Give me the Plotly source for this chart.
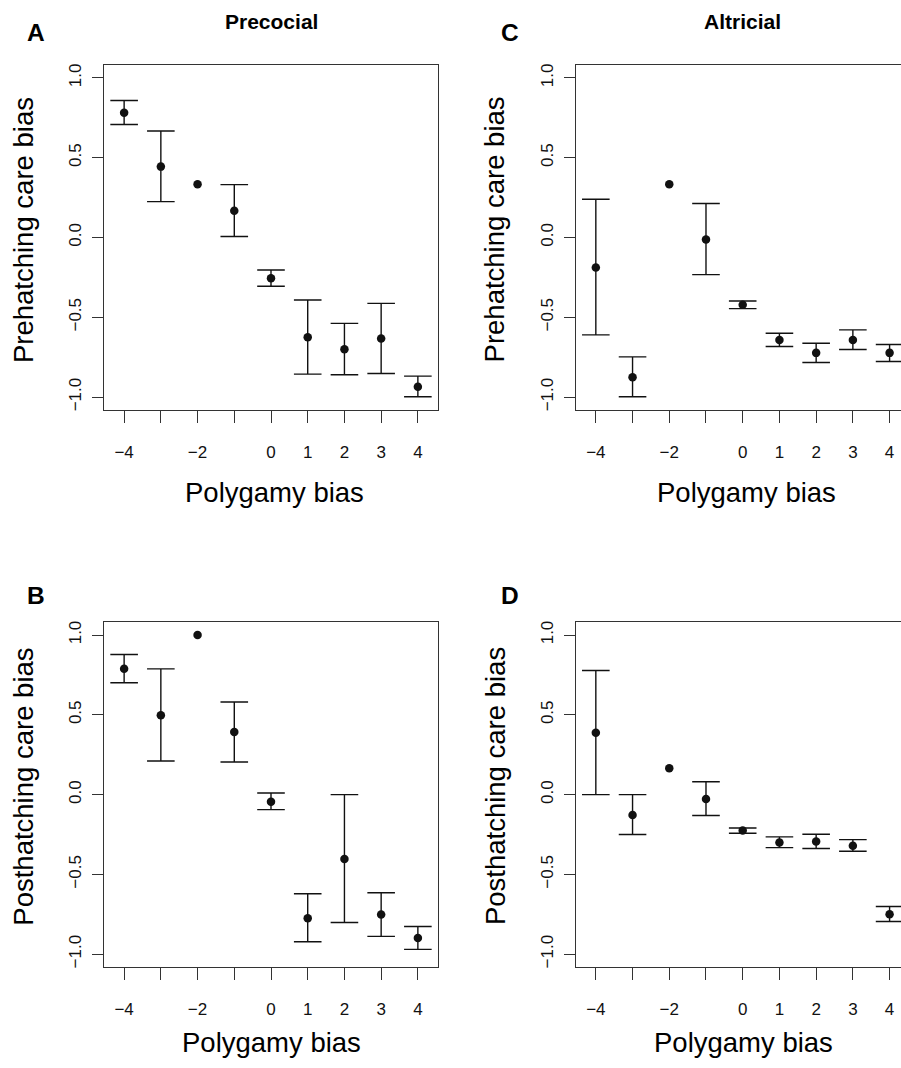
import plotly.graph_objects as go

W, H = 901, 1068

# ---------------- data ----------------
polygamy = [-4, -3, -2, -1, 0, 1, 2, 3, 4]

# Panel A: Precocial, prehatching care bias
pre_precocial = [0.781, 0.444, 0.333, 0.167, -0.256, -0.625, -0.700, -0.633, -0.935]
pre_precocial_hi = [0.858, 0.667, None, 0.331, -0.204, -0.392, -0.538, -0.413, -0.869]
pre_precocial_lo = [0.708, 0.225, None, 0.006, -0.306, -0.856, -0.860, -0.852, -0.998]

# Panel B: Precocial, posthatching care bias
post_precocial = [0.788, 0.498, 1.000, 0.392, -0.044, -0.774, -0.403, -0.751, -0.899]
post_precocial_hi = [0.878, 0.788, None, 0.580, 0.010, -0.621, 0.000, -0.615, -0.826]
post_precocial_lo = [0.701, 0.211, None, 0.204, -0.094, -0.922, -0.801, -0.888, -0.970]

# Panel C: Altricial, prehatching care bias
pre_altricial = [-0.188, -0.875, 0.333, -0.013, -0.421, -0.642, -0.723, -0.642, -0.723]
pre_altricial_hi = [0.240, -0.748, None, 0.213, -0.398, -0.600, -0.663, -0.579, -0.671]
pre_altricial_lo = [-0.610, -0.998, None, -0.233, -0.446, -0.683, -0.783, -0.702, -0.777]

# Panel D: Altricial, posthatching care bias
post_altricial = [0.388, -0.127, 0.165, -0.027, -0.225, -0.300, -0.294, -0.321, -0.749]
post_altricial_hi = [0.778, 0.000, None, 0.081, -0.209, -0.265, -0.248, -0.282, -0.701]
post_altricial_lo = [0.000, -0.250, None, -0.131, -0.242, -0.332, -0.338, -0.355, -0.795]

x_ticktext = ["\u22124", "", "\u22122", "", "0", "1", "2", "3", "4"]
y_tickvals = [-1.0, -0.5, 0.0, 0.5, 1.0]
y_ticktext = ["\u22121.0", "\u22120.5", "0.0", "0.5", "1.0"]

FONT = "Liberation Sans, Arial, Helvetica, sans-serif"
INK = "#111111"
AXC = "#333333"
TICKSIZE = 17

fig = go.Figure()


def add_panel(fig, xa, ya, mean, hi, lo):
    xs_e, ys_e, up, dn = [], [], [], []
    xs_n, ys_n = [], []
    for x, m, h, l in zip(polygamy, mean, hi, lo):
        if h is None or l is None:
            xs_n.append(x)
            ys_n.append(m)
        else:
            xs_e.append(x)
            ys_e.append(m)
            up.append(h - m)
            dn.append(m - l)
    fig.add_trace(go.Scatter(
        x=xs_e, y=ys_e, mode="markers", xaxis=xa, yaxis=ya,
        marker=dict(size=8.5, color=INK),
        error_y=dict(type="data", symmetric=False, array=up, arrayminus=dn,
                     color=INK, thickness=1.4, width=13.8),
        showlegend=False, cliponaxis=False))
    fig.add_trace(go.Scatter(
        x=xs_n, y=ys_n, mode="markers", xaxis=xa, yaxis=ya,
        marker=dict(size=8.5, color=INK), showlegend=False, cliponaxis=False))


add_panel(fig, "x", "y", pre_precocial, pre_precocial_hi, pre_precocial_lo)
add_panel(fig, "x2", "y2", pre_altricial, pre_altricial_hi, pre_altricial_lo)
add_panel(fig, "x3", "y3", post_precocial, post_precocial_hi, post_precocial_lo)
add_panel(fig, "x4", "y4", post_altricial, post_altricial_hi, post_altricial_lo)

PX = 36.72  # pixels per x unit


def xaxis(domain, rng, anchor):
    return dict(domain=domain, range=rng, anchor=anchor,
                tickmode="array", tickvals=polygamy, ticktext=x_ticktext,
                ticks="outside", ticklen=11.5, tickwidth=1.2, tickcolor=AXC,
                showline=True, linecolor=AXC, linewidth=1.3, mirror=True,
                showgrid=False, zeroline=False,
                tickfont=dict(family=FONT, size=TICKSIZE, color=INK),
                ticklabelstandoff=15)


def yaxis(domain, anchor, mirror):
    return dict(domain=domain, range=[-1.08, 1.08], anchor=anchor,
                tickmode="array", tickvals=y_tickvals, ticktext=y_ticktext,
                tickangle=-90,
                ticks="outside", ticklen=11, tickwidth=1.2, tickcolor=AXC,
                showline=True, linecolor=AXC, linewidth=1.3, mirror=mirror,
                showgrid=False, zeroline=False,
                tickfont=dict(family=FONT, size=TICKSIZE, color=INK),
                ticklabelstandoff=4)


left_dom = [104.3 / W, 437.7 / W]
right_dom = [576.0 / W, 1.0]
top_dom = [1 - 409.0 / H, 1 - 63.3 / H]
bot_dom = [1 - 967.7 / H, 1 - 622.0 / H]

xr_left = [-4.54, 4.54]
xr_right = [-4.54, -4.54 + (W - 576.0) / PX]

ann = []


def txt(x, y, s, size, bold=False, angle=0):
    ann.append(dict(x=x / W, y=1 - y / H, xref="paper", yref="paper",
                    text=("<b>%s</b>" % s) if bold else s, showarrow=False,
                    xanchor="center", yanchor="middle", textangle=angle,
                    font=dict(family=FONT, size=size, color="#000000")))


txt(271, 20, "Precocial", 21, bold=True)
txt(742.5, 20, "Altricial", 21, bold=True)
txt(35.7, 30.5, "A", 24.5, bold=True)
txt(510, 30.5, "C", 24.5, bold=True)
txt(35.7, 595, "B", 24.5, bold=True)
txt(510, 595, "D", 24.5, bold=True)
txt(23.4, 228.3, "Prehatching care bias", 27.5, angle=-90)
txt(494.8, 228.3, "Prehatching care bias", 27.5, angle=-90)
txt(23.4, 786.5, "Posthatching care bias", 27.5, angle=-90)
txt(494.8, 786.5, "Posthatching care bias", 27.5, angle=-90)
txt(274, 492.3, "Polygamy bias", 27.5)
txt(746, 492.3, "Polygamy bias", 27.5)
txt(271.5, 1043, "Polygamy bias", 27.5)
txt(743, 1043, "Polygamy bias", 27.5)

fig.update_layout(
    width=W, height=H, margin=dict(l=0, r=0, t=0, b=0),
    paper_bgcolor="white", plot_bgcolor="white",
    font=dict(family=FONT, color=INK, size=TICKSIZE),
    xaxis=xaxis(left_dom, xr_left, "y"),
    yaxis=yaxis(top_dom, "x", True),
    xaxis2=xaxis(right_dom, xr_right, "y2"),
    yaxis2=yaxis(top_dom, "x2", False),
    xaxis3=xaxis(left_dom, xr_left, "y3"),
    yaxis3=yaxis(bot_dom, "x3", True),
    xaxis4=xaxis(right_dom, xr_right, "y4"),
    yaxis4=yaxis(bot_dom, "x4", False),
    annotations=ann,
)

fig.write_html("out.html")
